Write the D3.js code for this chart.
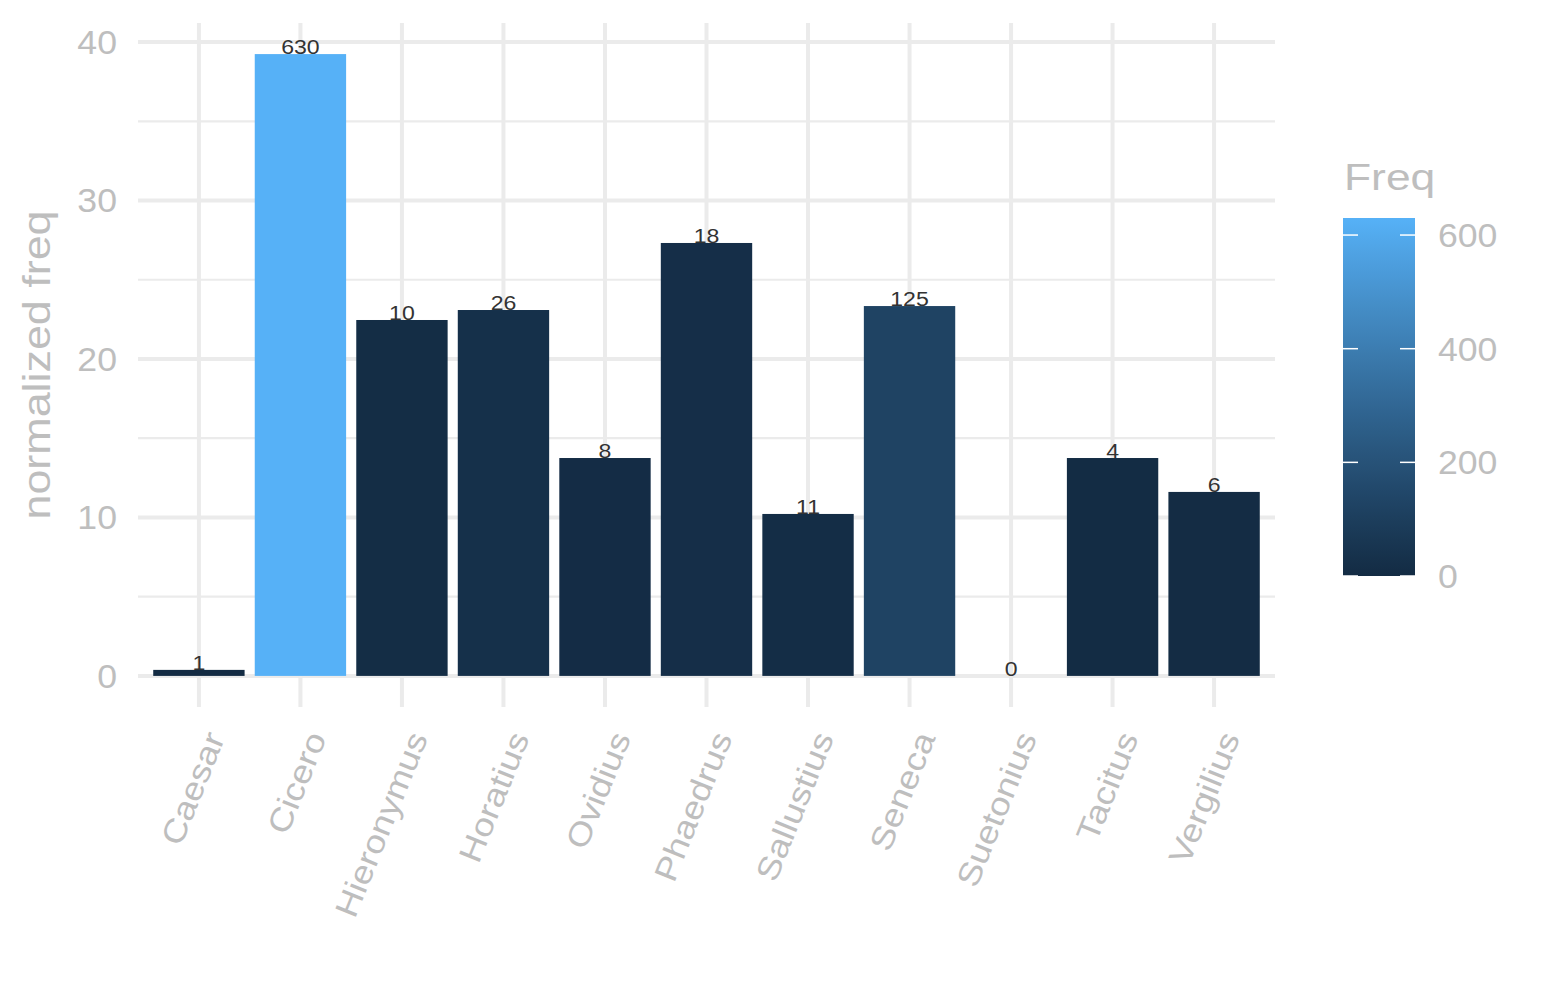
<!DOCTYPE html>
<meta charset="utf-8">
<head>
	<script src="https://cdn.jsdelivr.net/npm/d3@7"></script>
	<style>
		body { margin: 0; background: #fff; }
		text { font-family: "Liberation Sans", Arial, sans-serif; }
		.axis-text { fill: #BEBEBE; }
		.bar-label { fill: #333; }
	</style>
</head>
<body>
	<svg id="svg"></svg>
</body>
<script>
	var authors = ['Caesar', 'Cicero', 'Hieronymus', 'Horatius', 'Ovidius', 'Phaedrus',
		'Sallustius', 'Seneca', 'Suetonius', 'Tacitus', 'Vergilius'];
	var normFreq = [0.38, 39.24, 22.46, 23.09, 13.75, 27.32, 10.22, 23.34, 0, 13.75, 11.61];
	var freq = [1, 630, 10, 26, 8, 18, 11, 125, 0, 4, 6];
	var yTicks = [0, 10, 20, 30, 40];
	var yMinor = [5, 15, 25, 35];
	var legendTicks = [0, 200, 400, 600];

	var width = 1545, height = 1000;
	var panel = { left: 138, right: 1275, top: 23, bottom: 707 };

	var svg = d3.select("#svg")
		.attr("width", width)
		.attr("height", height);

	var data = authors.map((a, i) => ({ author: a, norm: normFreq[i], freq: freq[i] }));

	var yMax = d3.max(normFreq);
	var y = d3.scaleLinear()
		.domain([-0.05 * yMax, 1.05 * yMax])
		.range([panel.bottom, panel.top]);

	var x = d3.scaleBand()
		.domain(authors)
		.range([panel.left, panel.right])
		.paddingInner(0.1)
		.paddingOuter(0.15);

	var color = d3.scaleLinear()
		.domain([0, d3.max(freq)])
		.range(["#132B43", "#56B1F7"])
		.interpolate(d3.interpolateLab);

	// grid
	var grid = svg.append("g");
	grid.selectAll(".minor")
		.data(yMinor)
		.enter().append("line")
		.attr("x1", panel.left).attr("x2", panel.right)
		.attr("y1", d => y(d)).attr("y2", d => y(d))
		.attr("stroke", "#EBEBEB").attr("stroke-width", 2.2);
	grid.selectAll(".major")
		.data(yTicks)
		.enter().append("line")
		.attr("x1", panel.left).attr("x2", panel.right)
		.attr("y1", d => y(d)).attr("y2", d => y(d))
		.attr("stroke", "#EBEBEB").attr("stroke-width", 4);
	grid.selectAll(".vmajor")
		.data(authors)
		.enter().append("line")
		.attr("x1", d => x(d) + x.bandwidth() / 2).attr("x2", d => x(d) + x.bandwidth() / 2)
		.attr("y1", panel.top).attr("y2", panel.bottom)
		.attr("stroke", "#EBEBEB").attr("stroke-width", 4);

	// bars
	svg.append("g").selectAll("rect")
		.data(data)
		.enter().append("rect")
		.attr("x", d => x(d.author))
		.attr("width", x.bandwidth())
		.attr("y", d => y(d.norm))
		.attr("height", d => y(0) - y(d.norm))
		.attr("fill", d => color(d.freq));

	// counts on top of bars
	svg.append("g").selectAll("text")
		.data(data)
		.enter().append("text")
		.attr("class", "bar-label")
		.attr("transform", d => "translate(" + (x(d.author) + x.bandwidth() / 2) + "," + y(d.norm) + ") scale(1.1,1)")
		.attr("text-anchor", "middle")
		.attr("font-size", "21px")
		.text(d => d.freq);

	// y axis labels
	svg.append("g").selectAll("text")
		.data(yTicks)
		.enter().append("text")
		.attr("class", "axis-text")
		.attr("transform", d => "translate(117," + y(d) + ") scale(1.08,1)")
		.attr("text-anchor", "end")
		.attr("dy", "0.36em")
		.attr("font-size", "33px")
		.text(d => d);

	svg.append("text")
		.attr("class", "axis-text")
		.attr("transform", "translate(50," + (panel.top + panel.bottom) / 2 + ") rotate(-90) scale(1.15,1)")
		.attr("text-anchor", "middle")
		.attr("font-size", "39px")
		.text("normalized freq");

	// x axis labels
	svg.append("g").selectAll("text")
		.data(authors)
		.enter().append("text")
		.attr("class", "axis-text")
		.attr("transform", d => "translate(" + (x(d) + x.bandwidth() / 2 + 5) + ",729) rotate(-68) scale(1.15,1)")
		.attr("text-anchor", "end")
		.attr("dy", "0.72em")
		.attr("font-size", "32px")
		.text(d => d);

	// legend
	var legend = svg.append("g");
	var ly = d3.scaleLinear()
		.domain([0, d3.max(freq)])
		.range([576, 218]);

	var grad = svg.append("defs").append("linearGradient")
		.attr("id", "freqGrad")
		.attr("x1", 0).attr("y1", 1).attr("x2", 0).attr("y2", 0);
	grad.selectAll("stop")
		.data(d3.range(0, 1.0001, 0.05))
		.enter().append("stop")
		.attr("offset", d => d)
		.attr("stop-color", d => color(d * d3.max(freq)));

	legend.append("text")
		.attr("class", "axis-text")
		.attr("transform", "translate(1344,190) scale(1.2,1)")
		.attr("font-size", "37px")
		.text("Freq");

	legend.append("rect")
		.attr("x", 1343).attr("width", 72)
		.attr("y", ly(d3.max(freq))).attr("height", ly(0) - ly(d3.max(freq)))
		.attr("fill", "url(#freqGrad)");

	legend.selectAll(".tl")
		.data(legendTicks)
		.enter().append("line")
		.attr("x1", 1343).attr("x2", 1358)
		.attr("y1", d => ly(d)).attr("y2", d => ly(d))
		.attr("stroke", "#fff").attr("stroke-width", 1.5);
	legend.selectAll(".tr")
		.data(legendTicks)
		.enter().append("line")
		.attr("x1", 1400).attr("x2", 1415)
		.attr("y1", d => ly(d)).attr("y2", d => ly(d))
		.attr("stroke", "#fff").attr("stroke-width", 1.5);

	legend.selectAll(".lt")
		.data(legendTicks)
		.enter().append("text")
		.attr("class", "axis-text")
		.attr("transform", d => "translate(1438," + ly(d) + ") scale(1.08,1)")
		.attr("dy", "0.36em")
		.attr("font-size", "33px")
		.text(d => d);
</script>
